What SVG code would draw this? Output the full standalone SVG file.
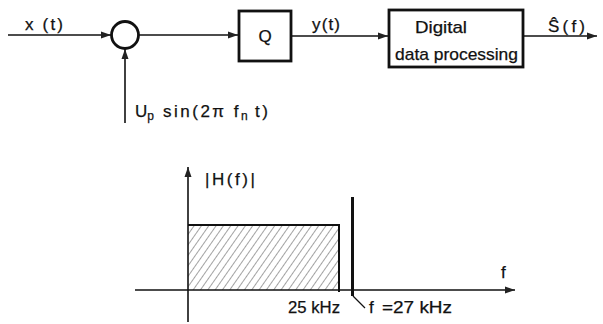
<svg xmlns="http://www.w3.org/2000/svg" width="603" height="324" viewBox="0 0 603 324">
<defs>
<marker id="arr" viewBox="0 0 10 8" refX="10" refY="4" markerWidth="10" markerHeight="8" markerUnits="userSpaceOnUse" orient="auto">
<path d="M0,0.5 L10,4 L0,7.5 Z" fill="#222"/>
</marker>
<pattern id="hatch" patternUnits="userSpaceOnUse" width="6" height="10" patternTransform="rotate(35)">
<line x1="0" y1="0" x2="0" y2="10" stroke="#333" stroke-width="0.9"/>
</pattern>
</defs>
<style>
.t{font-family:"Liberation Sans",Arial,sans-serif;font-size:17px;fill:#111;stroke:#111;stroke-width:0.25}
.ln{stroke:#111;stroke-width:1.6;fill:none}
.box{stroke:#111;stroke-width:2.8;fill:#fff}
</style>
<rect width="603" height="324" fill="#fff"/>

<g id="connectors">
<line class="ln" x1="8" y1="35" x2="111" y2="35" marker-end="url(#arr)"/>
<line class="ln" x1="125" y1="123" x2="125" y2="49" marker-end="url(#arr)"/>
<line class="ln" x1="139" y1="35" x2="238" y2="35" marker-end="url(#arr)"/>
<line class="ln" x1="291" y1="36" x2="388" y2="36" marker-end="url(#arr)"/>
<line class="ln" x1="523" y1="36" x2="597" y2="36" marker-end="url(#arr)"/>
</g>

<g id="labels">
<text class="t" x="25" y="30" textLength="38" lengthAdjust="spacing">x (t)</text>
<text class="t" x="312" y="30" textLength="28" lengthAdjust="spacing">y(t)</text>
<text class="t" x="548" y="32" textLength="37" lengthAdjust="spacing">Ŝ(f)</text>
<text class="t" x="135" y="117">U<tspan font-size="12" dy="3">p</tspan><tspan dy="-3" x="163" letter-spacing="2.5">sin(2π f</tspan><tspan font-size="12" dy="3">n</tspan><tspan dy="-3" letter-spacing="2.5"> t)</tspan></text>
</g>

<g id="sum">
<circle cx="125" cy="35" r="13.5" fill="#fff" stroke="#111" stroke-width="2.8"/>
</g>

<g id="quantizer">
<rect class="box" x="239" y="11" width="52" height="50"/>
<text class="t" x="265" y="42" text-anchor="middle">Q</text>
</g>

<g id="processing">
<rect class="box" x="389" y="10" width="134" height="57"/>
<text class="t" x="415" y="33" textLength="52" lengthAdjust="spacingAndGlyphs">Digital</text>
<text class="t" x="395" y="60" textLength="123" lengthAdjust="spacingAndGlyphs">data processing</text>
</g>

<g id="spectrum">
<rect x="188" y="225" width="151" height="65" fill="url(#hatch)"/>
<polyline points="188,225 339,225 339,292" fill="none" stroke="#111" stroke-width="2"/>
<line class="ln" x1="135" y1="290" x2="515" y2="290" marker-end="url(#arr)"/>
<line class="ln" x1="188" y1="322" x2="188" y2="167" marker-end="url(#arr)"/>
<line x1="352.5" y1="197" x2="352.5" y2="296" stroke="#111" stroke-width="3"/>
<line x1="353" y1="296" x2="365" y2="308" stroke="#111" stroke-width="1.2"/>
<text class="t" x="205" y="185" textLength="50" lengthAdjust="spacing">|H(f)|</text>
<text class="t" x="501" y="278">f</text>
<text class="t" x="288" y="313" textLength="52" lengthAdjust="spacingAndGlyphs">25 kHz</text>
<text class="t" x="369" y="313">f</text>
<text class="t" x="382" y="313" textLength="70" lengthAdjust="spacingAndGlyphs">=27 kHz</text>
</g>
</svg>
